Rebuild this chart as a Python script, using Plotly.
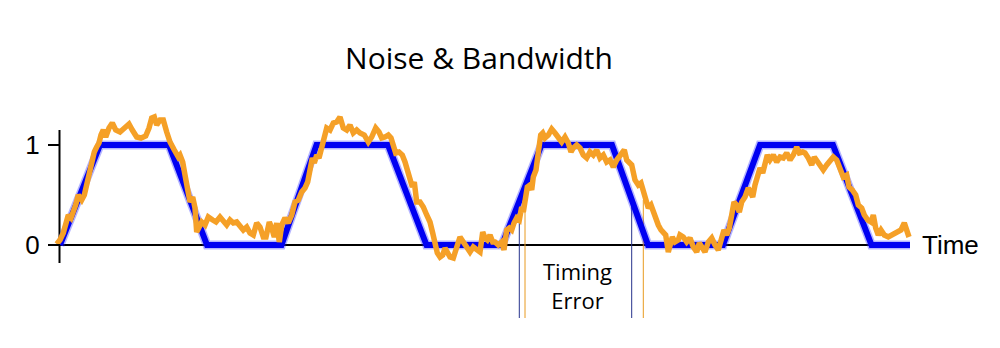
import plotly.graph_objects as go

# ---- data ----
ideal_t = [0.0, 4.0, 10.9, 14.7, 22.15, 25.65, 32.8, 36.65, 44.2, 48.15, 55.2, 58.8, 66.3, 70.0, 77.3, 81.15, 85.0]
ideal_v = [0, 1, 1, 0, 0, 1, 1, 0, 0, 1, 1, 0, 0, 1, 1, 0, 0]

noisy_t = [
    -0.33, 0.0, 0.33, 0.57, 0.83, 1.1, 1.33, 1.57, 1.83, 2.17, 2.43, 2.67, 2.83, 3.1, 3.23, 3.43, 3.67, 3.9,
    4.1, 4.33, 4.57, 4.9, 5.23, 5.57, 6.0, 6.5, 6.9, 7.23, 7.67, 8.1, 8.57, 8.9, 9.17, 9.43, 9.67, 10.0,
    10.33, 10.67, 11.0, 11.43, 11.83, 12.0, 12.27, 12.5, 12.73, 13.0, 13.27, 13.5, 13.67, 13.93, 14.17,
    14.5, 14.83, 15.27, 15.6, 16.0, 16.33, 16.67, 17.0, 17.33, 17.67, 18.0, 18.33, 18.67, 19.0, 19.33,
    19.67, 20.0, 20.33, 20.6, 20.93, 21.17, 21.43, 21.67, 21.93, 22.17, 22.5, 22.83, 23.17, 23.5, 23.83,
    24.17, 24.5, 24.77, 25.0, 25.23, 25.43, 25.67, 25.9, 26.17, 26.43, 26.67, 27.0, 27.33, 27.67, 28.0,
    28.33, 28.67, 29.0, 29.33, 29.67, 30.0, 30.43, 30.83, 31.17, 31.57, 31.9, 32.17, 32.5, 32.83, 33.1,
    33.33, 33.57, 33.9, 34.23, 34.5, 34.77, 35.0, 35.23, 35.43, 35.67, 36.0, 36.33, 36.67, 37.0, 37.27,
    37.5, 37.73, 38.0, 38.27, 38.5, 38.73, 39.0, 39.33, 39.67, 40.0, 40.33, 40.67, 41.0, 41.33, 41.67,
    42.0, 42.27, 42.5, 42.73, 43.0, 43.27, 43.5, 43.83, 44.17, 44.4, 44.67, 44.93, 45.17, 45.4, 45.67,
    45.93, 46.17, 46.33, 46.53, 46.73, 47.0, 47.17, 47.33, 47.6, 47.73, 47.93, 48.07, 48.27, 48.5, 48.83,
    49.17, 49.5, 49.83, 50.17, 50.5, 50.83, 51.1, 51.33, 51.67, 52.0, 52.33, 52.67, 53.0, 53.33, 53.67,
    54.0, 54.33, 54.67, 55.0, 55.33, 55.67, 56.0, 56.43, 56.67, 56.9, 57.17, 57.5, 57.83, 58.1, 58.33,
    58.57, 58.83, 59.1, 59.33, 59.6, 59.83, 60.1, 60.33, 60.57, 60.83, 61.0, 61.23, 61.5, 61.83, 62.0,
    62.33, 62.67, 63.0, 63.33, 63.67, 63.93, 64.17, 64.5, 64.83, 65.17, 65.5, 65.83, 66.17, 66.4, 66.67,
    66.93, 67.17, 67.4, 67.67, 67.93, 68.17, 68.5, 68.83, 69.07, 69.27, 69.5, 69.73, 70.0, 70.27, 70.5,
    70.73, 71.0, 71.33, 71.67, 72.0, 72.33, 72.67, 73.0, 73.33, 73.67, 73.93, 74.27, 74.5, 74.83, 75.17,
    75.43, 75.77, 76.1, 76.33, 76.67, 77.0, 77.33, 77.67, 78.0, 78.33, 78.67, 78.9, 79.23, 79.57, 79.83,
    80.17, 80.43, 80.77, 81.1, 81.33, 81.57, 81.83, 82.1, 82.43, 82.83, 83.23, 83.67, 84.1, 84.43, 84.67,
    84.9,
]
noisy_v = [
    0.01, 0.05, 0.12, 0.22, 0.30, 0.27, 0.33, 0.40, 0.50, 0.45, 0.50, 0.60, 0.68, 0.77, 0.87, 0.93, 0.98, 1.02,
    1.10, 1.15, 1.08, 1.17, 1.22, 1.15, 1.13, 1.17, 1.21, 1.15, 1.08, 1.07, 1.09, 1.17, 1.27, 1.28, 1.20, 1.25,
    1.25, 1.13, 1.03, 0.95, 0.88, 0.90, 0.83, 0.70, 0.57, 0.43, 0.48, 0.37, 0.13, 0.17, 0.23,
    0.20, 0.28, 0.25, 0.23, 0.28, 0.23, 0.20, 0.25, 0.22, 0.23, 0.18, 0.15, 0.18, 0.12, 0.10,
    0.22, 0.18, 0.08, 0.08, 0.23, 0.17, 0.08, 0.22, 0.03, 0.20, 0.27, 0.22, 0.30, 0.43, 0.45,
    0.53, 0.57, 0.63, 0.77, 0.87, 0.82, 0.90, 0.87, 0.97, 1.03, 1.17, 1.15, 1.22, 1.23, 1.28,
    1.17, 1.15, 1.20, 1.12, 1.15, 1.12, 1.10, 1.03, 1.08, 1.17, 1.13, 1.07, 1.08, 1.10, 1.07,
    0.98, 0.92, 0.93, 0.90, 0.83, 0.73, 0.62, 0.58, 0.63, 0.43, 0.43, 0.38, 0.30, 0.23, 0.12,
    0.00, -0.08, -0.12, -0.10, -0.03, -0.08, -0.12, -0.13, -0.03, 0.08, 0.03, -0.03, -0.07, -0.02, -0.05,
    -0.07, 0.13, 0.07, 0.05, 0.10, 0.03, 0.03, 0.00, 0.03, -0.05, 0.15, 0.17, 0.15, 0.22, 0.27,
    0.25, 0.38, 0.33, 0.50, 0.58, 0.60, 0.55, 0.68, 0.75, 0.85, 0.97, 1.10, 1.12, 1.07, 1.10,
    1.16, 1.12, 1.07, 1.03, 1.08, 1.02, 0.93, 0.97, 1.00, 0.97, 0.90, 0.87, 0.93, 0.90, 0.95,
    0.87, 0.90, 0.83, 0.85, 0.78, 0.85, 0.90, 0.95, 0.85, 0.82, 0.80, 0.65, 0.60, 0.62, 0.53,
    0.43, 0.37, 0.40, 0.33, 0.23, 0.20, 0.15, 0.12, 0.10, -0.07, 0.00, 0.08, 0.03, 0.05, 0.10,
    0.08, 0.03, 0.07, -0.02, -0.07, 0.02, -0.03, -0.07, 0.03, 0.07, 0.00, -0.05, 0.07, 0.15, 0.10,
    0.17, 0.30, 0.43, 0.40, 0.33, 0.43, 0.48, 0.57, 0.50, 0.48, 0.60, 0.67, 0.77, 0.72, 0.80,
    0.90, 0.85, 0.90, 0.83, 0.88, 0.87, 0.92, 0.85, 0.90, 0.98, 0.92, 0.93, 0.92, 0.87, 0.80,
    0.88, 0.83, 0.77, 0.75, 0.80, 0.85, 0.88, 0.85, 0.75, 0.68, 0.70, 0.58, 0.55, 0.50, 0.40,
    0.37, 0.30, 0.25, 0.23, 0.30, 0.17, 0.10, 0.15, 0.10, 0.08, 0.10, 0.12, 0.15, 0.22, 0.12,
    0.08,
]

# timing markers (time of threshold crossing)
ideal_cross = [45.93, 57.17]
noisy_cross = [46.5, 58.33]
marker_top = 0.45
marker_bottom = -0.73

title_text = "Noise & Bandwidth"
x_label = "Time"
y_ticks = [0, 1]
y_ticklabels = ["0", "1"]
note_text = "Timing<br>Error"

BLUE = "#0000F2"
ORANGE = "#F5A027"
NAVY = "#26328C"

fig = go.Figure()

# soft halo of the ideal signal
fig.add_trace(go.Scatter(x=ideal_t, y=ideal_v, mode="lines",
                         line=dict(color="rgba(40,40,255,0.35)", width=9),
                         hoverinfo="skip", showlegend=False))
fig.add_trace(go.Scatter(x=ideal_t, y=ideal_v, mode="lines",
                         line=dict(color=BLUE, width=6),
                         showlegend=False))
fig.add_trace(go.Scatter(x=noisy_t, y=noisy_v, mode="lines",
                         line=dict(color=ORANGE, width=5.5),
                         showlegend=False))

shapes = []
# x axis line
shapes.append(dict(type="line", xref="x", yref="y", x0=-0.05, x1=85.0, y0=0, y1=0,
                   line=dict(color="black", width=2), layer="below"))
# y axis line
shapes.append(dict(type="line", xref="x", yref="y", x0=-0.05, x1=-0.05, y0=-0.18, y1=1.15,
                   line=dict(color="black", width=2), layer="below"))
for t in ideal_cross:
    shapes.append(dict(type="line", xref="x", yref="y", x0=t, x1=t, y0=marker_top, y1=marker_bottom,
                       line=dict(color=NAVY, width=1), layer="below"))
for t in noisy_cross:
    shapes.append(dict(type="line", xref="x", yref="y", x0=t, x1=t, y0=marker_top, y1=marker_bottom,
                       line=dict(color="#E89A20", width=1), layer="below"))

annotations = [
    dict(text=x_label, x=86.0, y=0, xref="x", yref="y", xanchor="left", yanchor="middle",
         showarrow=False, font=dict(family="Liberation Sans", size=26, color="black")),
    dict(text=note_text, x=51.7, y=-0.40, xref="x", yref="y", xanchor="center", yanchor="middle",
         showarrow=False, font=dict(family="Open Sans", size=22, color="black")),
]

fig.update_layout(
    width=1000, height=348,
    margin=dict(l=40, r=0, t=0, b=0),
    paper_bgcolor="white", plot_bgcolor="white",
    title=dict(text=title_text, x=0.479, xanchor="center", xref="container",
               y=1 - 58 / 348, yanchor="middle", yref="container",
               font=dict(family="Open Sans", size=30, color="black")),
    xaxis=dict(range=[-2, 94], visible=False),
    yaxis=dict(range=[-1.03, 2.45], anchor="free", position=20 / 960,
               showgrid=False, zeroline=False, showline=False,
               tickvals=y_ticks, ticktext=y_ticklabels,
               ticks="outside", ticklen=12, tickwidth=2, tickcolor="black",
               ticklabelstandoff=3,
               tickfont=dict(family="Liberation Sans", size=26, color="black")),
    shapes=shapes,
    annotations=annotations,
    showlegend=False,
)

fig.write_html("out.html")
